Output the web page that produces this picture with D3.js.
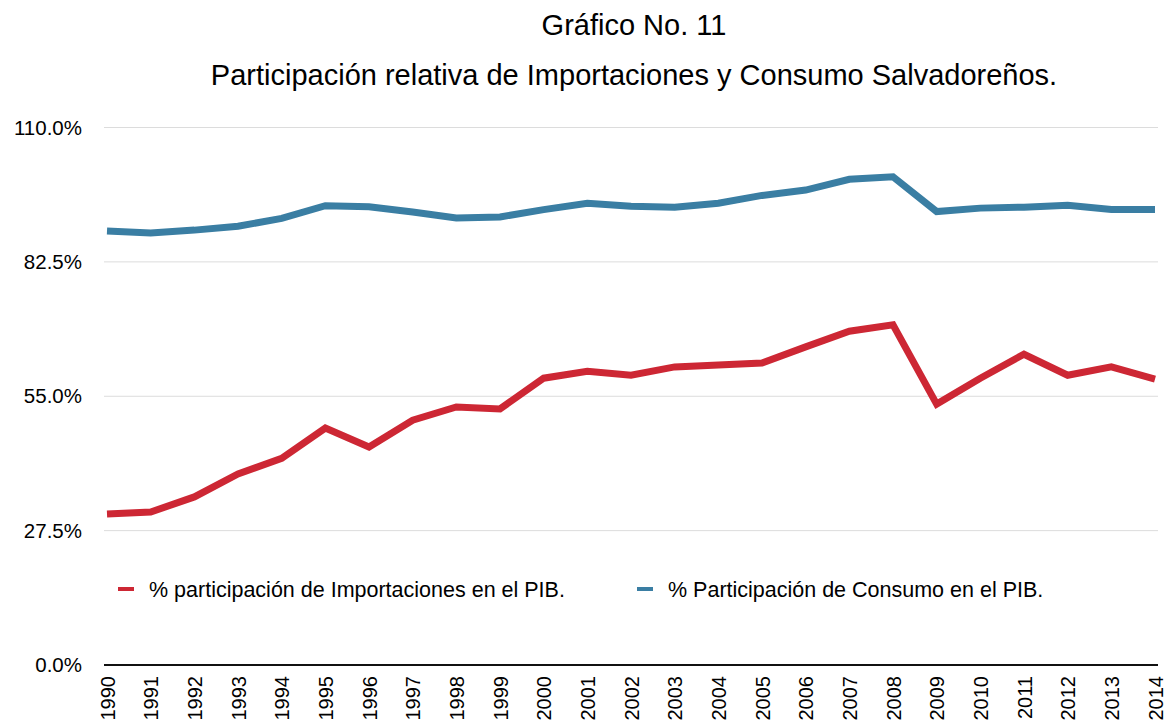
<!DOCTYPE html>
<html>
<head>
<meta charset="utf-8">
<script src="https://cdn.jsdelivr.net/npm/d3@7"></script>
<style>
  body { margin: 0; background: #fff; }
  svg { font-family: "Liberation Sans", Arial, sans-serif; }
</style>
</head>
<body>
<div id="chart"></div>
<script>
const width = 1169;
const height = 723;

// data
const years = [1990, 1991, 1992, 1993, 1994, 1995, 1996, 1997, 1998, 1999, 2000, 2001, 2002,
               2003, 2004, 2005, 2006, 2007, 2008, 2009, 2010, 2011, 2012, 2013, 2014];
const importaciones = [30.9, 31.3, 34.4, 39.1, 42.3, 48.5, 44.6, 50.1, 52.8, 52.4, 58.7, 60.1, 59.3,
                       61.0, 61.4, 61.8, 65.1, 68.3, 69.6, 53.4, 58.7, 63.6, 59.3, 61.0, 58.5];
const consumo = [88.8, 88.4, 89.0, 89.8, 91.4, 94.0, 93.8, 92.7, 91.5, 91.7, 93.2, 94.5, 93.9,
                 93.7, 94.5, 96.1, 97.2, 99.4, 99.9, 92.8, 93.5, 93.7, 94.1, 93.2, 93.2];
const yTicks = [0, 27.5, 55, 82.5, 110];
const seriesNames = ["% participación de Importaciones en el PIB.", "% Participación de Consumo en el PIB."];
const seriesColors = ["#cd2734", "#3a7ea3"];

const svg = d3.select("#chart").append("svg")
    .attr("width", width)
    .attr("height", height);

// titles
svg.append("text")
    .attr("x", 634).attr("y", 35)
    .attr("text-anchor", "middle")
    .style("font-size", "29px")
    .text("Gráfico No. 11");
svg.append("text")
    .attr("x", 634).attr("y", 85)
    .attr("text-anchor", "middle")
    .style("font-size", "29px")
    .text("Participación relativa de Importaciones y Consumo Salvadoreños.");

//----------------------------SCALES----------------------------//
const x = d3.scalePoint().domain(years).range([107, 1155]);
const y = d3.scaleLinear().domain([0, 110]).range([665, 127.5]);

//-----------------------------AXES-----------------------------//
const yAxis = svg.append("g")
    .attr("transform", "translate(104,0)")
    .call(d3.axisLeft(y).tickValues(yTicks).tickSize(0).tickPadding(22)
        .tickFormat(d => d.toFixed(1) + "%"));
yAxis.select(".domain").remove();
yAxis.selectAll("text")
    .style("font-size", "20.5px")
    .style("font-family", "'Liberation Sans', Arial, sans-serif")
    .attr("fill", "#000");

// gridlines
svg.append("g")
    .selectAll("line")
    .data(yTicks.filter(d => d > 0))
    .join("line")
    .attr("x1", 104).attr("x2", 1158)
    .attr("y1", d => y(d)).attr("y2", d => y(d))
    .attr("stroke", "#dcdcdc")
    .attr("stroke-width", 1);

const xAxis = svg.append("g")
    .attr("transform", `translate(0,${y(0)})`)
    .call(d3.axisBottom(x).tickSize(0).tickPadding(0));
xAxis.select(".domain")
    .attr("d", "M104,0H1158")
    .attr("stroke", "#111")
    .attr("stroke-width", 2);
xAxis.selectAll("text")
    .style("font-size", "20px")
    .style("font-family", "'Liberation Sans', Arial, sans-serif")
    .attr("fill", "#000")
    .attr("transform", "rotate(-90)")
    .attr("x", -11)
    .attr("y", 0)
    .attr("dy", "0.35em")
    .style("text-anchor", "end");

//----------------------------LINES-----------------------------//
const line = d3.line()
    .x((d, i) => x(years[i]))
    .y(d => y(d));

[importaciones, consumo].forEach((vals, i) => {
    svg.append("path")
        .datum(vals)
        .attr("d", line)
        .attr("fill", "none")
        .attr("stroke", seriesColors[i])
        .attr("stroke-width", 7)
        .attr("stroke-linejoin", "miter");
});

//----------------------------LEGEND----------------------------//
const legendX = [118, 637];
const legend = svg.selectAll(".legend")
    .data(seriesNames)
    .join("g")
    .attr("transform", (d, i) => `translate(${legendX[i]},589)`);
legend.append("line")
    .attr("x1", 0).attr("x2", 16)
    .attr("stroke", (d, i) => seriesColors[i])
    .attr("stroke-width", 4);
legend.append("text")
    .attr("x", 31)
    .attr("dy", "0.35em")
    .style("font-size", "21.5px")
    .text(d => d);
</script>
</body>
</html>
